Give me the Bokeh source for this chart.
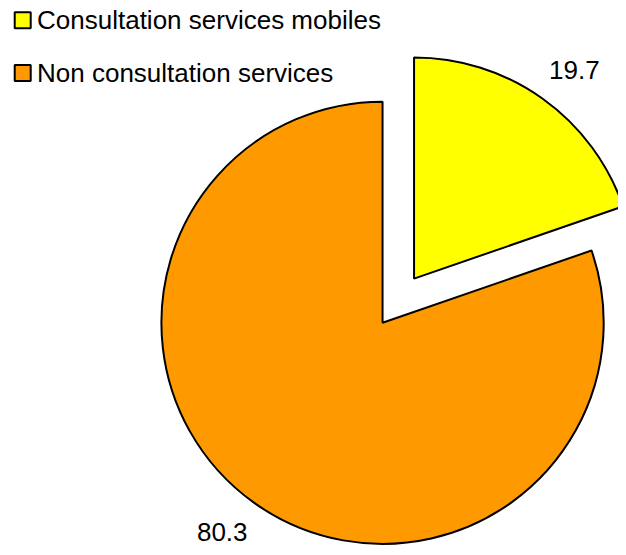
import math
from bokeh.plotting import figure
from bokeh.models import Range1d, ColumnDataSource
from bokeh.core.properties import value
from bokeh.embed import file_html
from bokeh.resources import INLINE

categories = ["Consultation services mobiles", "Non consultation services"]
values = [19.7, 80.3]
colors = ["#FFFF00", "#FF9900"]
labels = ["19.7", "80.3"]
exploded = [True, False]

FONT = "Liberation Sans"
W, H = 618, 547
# image-pixel coordinates of the reference (y negated so up is positive)
p = figure(width=W, height=H, x_range=Range1d(0, 626), y_range=Range1d(-555, 0),
           output_backend="svg", toolbar_location=None, min_border=0)
p.axis.visible = False
p.grid.visible = False
p.outline_line_color = None
p.background_fill_color = "white"

cx, cy, R = 387, -327, 224
explode = 55
label_r = 267

total = sum(values)
start = 90.0  # clockwise from top
ws = dict(x=[], y=[], start=[], end=[], color=[])
lx, ly = [], []
for v, c, ex in zip(values, colors, exploded):
    sweep = v / total * 360.0
    a_end = start
    a_start = start - sweep
    mid = math.radians((a_start + a_end) / 2)
    ox = cx + (explode * math.cos(mid) if ex else 0)
    oy = cy + (explode * math.sin(mid) if ex else 0)
    ws["x"].append(ox); ws["y"].append(oy)
    ws["start"].append(math.radians(a_start)); ws["end"].append(math.radians(a_end))
    ws["color"].append(c)
    lmid = mid - math.radians(2)
    lx.append(ox + label_r * math.cos(lmid))
    ly.append(oy + label_r * math.sin(lmid))
    start = a_start

src = ColumnDataSource(ws)
p.wedge(x="x", y="y", radius=R, start_angle="start", end_angle="end", direction="anticlock",
        fill_color="color", line_color="black", line_width=2, source=src)

p.text(x=lx, y=ly, text=labels, text_font=value(FONT), text_font_size="26px",
       text_align="center", text_baseline="middle", text_color="black")

# legend
leg_x = 22.5
leg_y = [-20, -73.5]
p.rect(x=[leg_x] * 2, y=leg_y, width=16, height=16, width_units="screen", height_units="screen",
       fill_color=colors, line_color="black", line_width=2)
p.text(x=[37] * 2, y=leg_y, text=categories, text_font=value(FONT), text_font_size="26px",
       text_align="left", text_baseline="middle", text_color="black")

open("out.html", "w").write(file_html(p, INLINE))
